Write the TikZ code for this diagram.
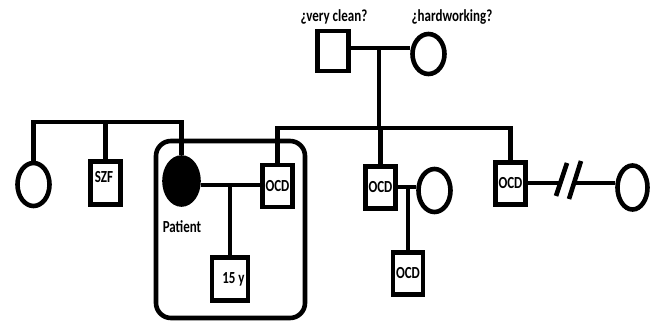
\documentclass[tikz,border=0pt]{standalone}
\usepackage{fontspec}
\usepackage{graphicx}
\setmainfont{Carlito}
\usetikzlibrary{shapes.geometric}
\newcommand{\tallt}[1]{\scalebox{1}[1.3]{#1}}
\begin{document}
\begin{tikzpicture}[x=1pt,y=-1pt,
  lw/.style={line width=4.6pt},
  txt/.style={font=\bfseries\fontsize{13}{15}\selectfont,inner sep=0pt},
  male/.style={draw,lw,rectangle,minimum width=30pt,minimum height=42pt,inner sep=0pt,txt},
  female/.style={draw,lw,ellipse,minimum width=32pt,minimum height=43pt,inner sep=0pt},
]
\useasboundingbox (0,0) rectangle (657,326);
% grandparents
\node[male,minimum width=31pt,minimum height=40pt] (fa) at (333,51) {};
\node[female,minimum height=40pt] (mo) at (428.5,54) {};
\node[txt] (tfa) at (334,17) {\tallt{¿very clean?}};
\node[txt] (tmo) at (452,17) {\tallt{¿hardworking?}};
% generation II
\node[female] (lc) at (33.5,184.5) {};
\node[male,minimum height=43pt] (szf) at (105.5,183) {};
\node[txt] (tszf) at (104,177) {\tallt{SZF}};
\node[female,fill=black,minimum width=34pt,minimum height=47pt] (pat) at (181.5,181) {};
\node[txt] (tpat) at (182,227) {\tallt{Patient}};
\node[male] (ocdh) at (277.5,186) {\tallt{OCD}};
\node[male] (ocdm) at (380.5,187.5) {\tallt{OCD}};
\node[female] (sp) at (434.5,190.5) {};
\node[male] (ocdr) at (510.5,183.5) {\tallt{OCD}};
\node[female,minimum width=30pt,minimum height=44pt] (rc) at (632.5,187.5) {};
% generation III
\node[male,minimum width=36pt,minimum height=43pt] (c15) at (230,279) {};
\node[txt] (t15) at (233.5,279) {\tallt{15 y}};
\node[male] (ocdc) at (408,273.5) {\tallt{OCD}};
% junction coordinates
\coordinate (mar) at (379,48);
\coordinate (sibL) at (0,122);
\coordinate (sibR) at (0,128);
\coordinate (pm) at (230,185);
\coordinate (mm) at (408,187);
\coordinate (br) at (0,183);
\coordinate (brA) at (562,183);
\coordinate (brB) at (575,183);
\coordinate (s1a) at (556,196);
\coordinate (s1b) at (567,163);
\coordinate (s2a) at (569,199);
\coordinate (s2b) at (581,161);
% connectors
\draw[lw] (fa.east |- mar) -- (mo.west |- mar);
\draw[lw] (mar) -- (mar |- sibR);
\draw[lw] (ocdh.north) |- (sibR -| ocdr.north) -- (ocdr.north);
\draw[lw] (ocdm.north) -- (ocdm.north |- sibR);
\draw[lw] (lc.north) |- (sibL -| pat.north) -- (pat.north);
\draw[lw] (szf.north) -- (szf.north |- sibL);
\draw[lw] (pat.east |- pm) -- (ocdh.west |- pm);
\draw[lw] (pm) -- (c15.north);
\draw[lw] (ocdm.east |- mm) -- (sp.west |- mm);
\draw[lw] (mm) -- (ocdc.north);
\draw[lw] (ocdr.east |- br) -- (brA);
\draw[lw] (brB) -- (rc.west |- br);
\draw[lw] (s1a) -- (s1b);
\draw[lw] (s2a) -- (s2b);
% household frame
\draw[lw,rounded corners=15pt] (156,141) rectangle (305,318);
\end{tikzpicture}
\end{document}
